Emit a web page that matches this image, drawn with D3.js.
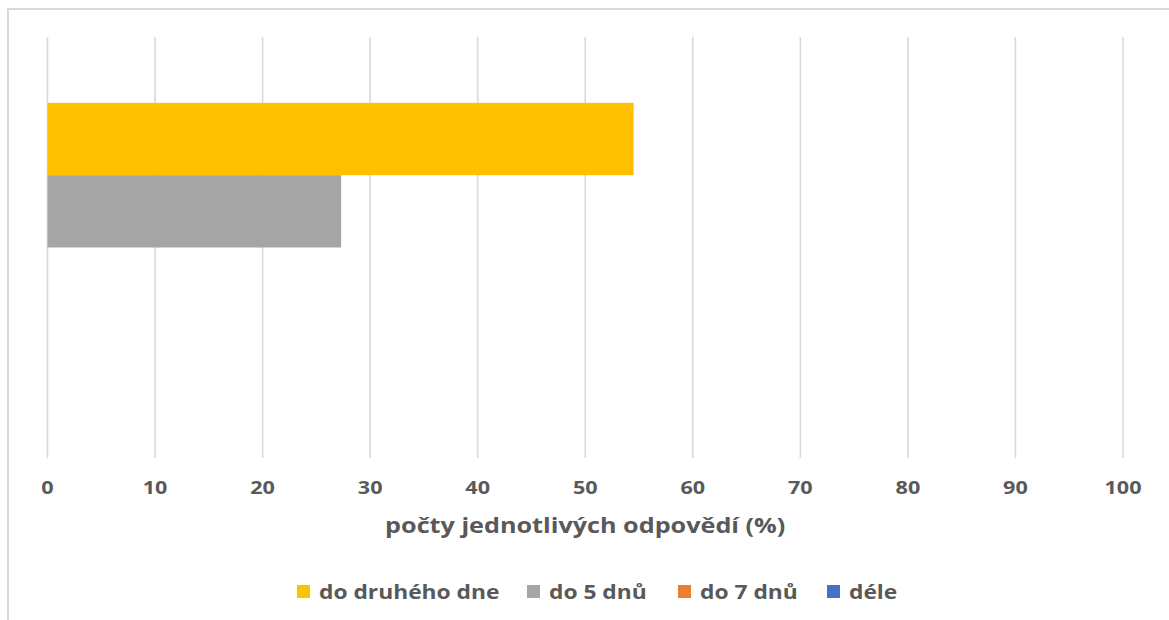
<!DOCTYPE html>
<html>
<head>
<meta charset="utf-8">
<script src="https://cdn.jsdelivr.net/npm/d3@7"></script>
<style>
  html, body { margin: 0; padding: 0; background: #fff; }
  svg { display: block; }
  text { font-family: "Open Sans", sans-serif; font-weight: 700; fill: #595959; }
</style>
</head>
<body>
<svg id="chart" width="1169" height="620"></svg>
<script>
// Response time shares (%)
const seriesNames = ["do druhého dne", "do 5 dnů", "do 7 dnů", "déle"];
const seriesValues = [54.5, 27.3, 0, 0];
const seriesColors = ["#ffc000", "#a5a5a5", "#ed7d31", "#4472c4"];
const xTicks = [0, 10, 20, 30, 40, 50, 60, 70, 80, 90, 100];
const xTitle = "počty jednotlivých odpovědí (%)";

const svg = d3.select("#chart");
const W = 1169, H = 620;
const plot = { left: 47.5, right: 1123, top: 37, bottom: 458 };
const sx = 1.2; // horizontal stretch of the lettering

// outer frame
svg.append("rect")
  .attr("x", 8).attr("y", 9)
  .attr("width", W + 10).attr("height", H + 10)
  .attr("fill", "#fff").attr("stroke", "#d9d9d9").attr("stroke-width", 2);

const x = d3.scaleLinear().domain([0, 100]).range([plot.left, plot.right]);
const y = d3.scaleBand().domain(seriesNames).range([plot.top, plot.bottom])
  .paddingInner(0).paddingOuter(0.91);

// vertical gridlines
svg.append("g").selectAll("line").data(xTicks).join("line")
  .attr("x1", d => x(d)).attr("x2", d => x(d))
  .attr("y1", plot.top).attr("y2", plot.bottom)
  .attr("stroke", "#d9d9d9").attr("stroke-width", 1.6);

// bars
svg.append("g").selectAll("rect").data(seriesNames).join("rect")
  .attr("x", x(0))
  .attr("y", d => y(d))
  .attr("width", (d, i) => x(seriesValues[i]) - x(0))
  .attr("height", y.bandwidth())
  .attr("fill", (d, i) => seriesColors[i]);

// tick labels
const lab = svg.append("g").attr("transform", `scale(${sx},1)`);
lab.selectAll("text.tick").data(xTicks).join("text")
  .attr("class", "tick")
  .attr("x", d => x(d) / sx)
  .attr("y", 494)
  .attr("text-anchor", "middle")
  .attr("font-size", 18)
  .text(d => d);

// axis title
lab.append("text")
  .attr("x", ((plot.left + plot.right) / 2) / sx)
  .attr("y", 533)
  .attr("text-anchor", "middle")
  .attr("font-size", 21)
  .text(xTitle);

// legend
const legendX = [297, 527, 678, 827];
const lg = svg.append("g");
seriesNames.forEach((name, i) => {
  lg.append("rect")
    .attr("x", legendX[i]).attr("y", 585)
    .attr("width", 13).attr("height", 13)
    .attr("fill", seriesColors[i]);
  lg.append("text")
    .attr("transform", `scale(${sx},1)`)
    .attr("x", (legendX[i] + 22) / sx)
    .attr("y", 599)
    .attr("font-size", 19)
    .text(name);
});
</script>
</body>
</html>
